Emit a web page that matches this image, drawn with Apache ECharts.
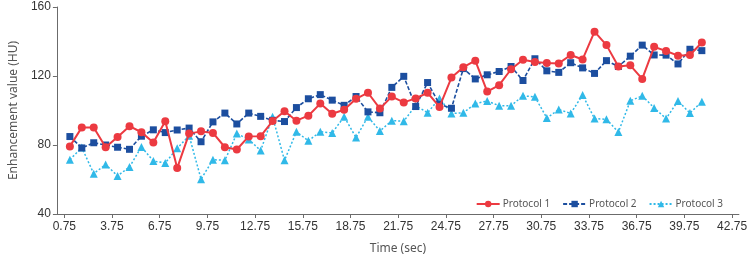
<!DOCTYPE html>
<html>
<head>
<meta charset="utf-8">
<script src="https://cdn.jsdelivr.net/npm/echarts@6/dist/echarts.min.js"></script>
<style>
html,body{margin:0;padding:0;background:#fff;}
#chart{width:750px;height:260px;}
</style>
</head>
<body>
<div id="chart"></div>
<script>
// Acquisition times (sec)
var times = [1.1,1.85,2.6,3.35,4.1,4.85,5.6,6.35,7.1,7.85,8.6,9.35,10.1,10.85,11.6,12.35,13.1,13.85,14.6,15.35,16.1,16.85,17.6,18.35,19.1,19.85,20.6,21.35,22.1,22.85,23.6,24.35,25.1,25.85,26.6,27.35,28.1,28.85,29.6,30.35,31.1,31.85,32.6,33.35,34.1,34.85,35.6,36.35,37.1,37.85,38.6,39.35,40.1,40.85];

var protocol1 = [79.2,90.2,90.2,78.7,84.7,90.9,87.4,81.5,93.8,66.6,86.6,87.9,87.0,78.7,77.4,85.0,
  85.1,93.9,99.6,94.1,97.0,104.0,98.1,100.4,106.8,110.3,101.1,108.1,104.7,107.0,110.3,102.1,119.1,125.1,128.9,111.0,
  114.7,123.9,129.4,128.1,127.5,127.3,132.2,129.6,145.7,137.9,125.5,126.2,118.3,136.9,134.5,131.8,132.2,139.4];

var protocol2 = [84.9,78.3,81.3,80.0,78.7,77.5,85.1,88.8,87.2,88.7,89.8,81.9,93.4,98.5,92.2,98.5,
  96.6,94.3,93.6,101.7,106.8,109.2,106.0,103.0,108.1,99.2,98.7,113.4,119.8,102.3,116.2,103.6,101.3,124.3,118.3,120.7,
  122.6,125.5,117.4,130.0,123.0,122.1,127.7,124.7,121.5,128.9,125.5,131.5,137.9,132.2,132.1,127.0,135.5,134.7];

var protocol3 = [71.5,78.5,63.4,68.7,62.1,67.3,78.9,70.7,69.6,78.1,85.4,60.2,71.5,71.1,86.6,83.2,
  76.8,96.4,71.1,87.7,82.4,87.7,87.0,96.4,84.3,96.4,88.1,94.1,93.8,102.8,98.7,107.0,98.3,98.7,104.0,105.5,
  102.8,102.8,108.5,107.9,95.6,100.6,98.3,109.0,95.3,94.9,87.5,105.6,108.5,101.5,95.3,105.5,98.5,105.1];

var xTicks = [0.75,3.75,6.75,9.75,12.75,15.75,18.75,21.75,24.75,27.75,30.75,33.75,36.75,39.75,42.75];
var yTicks = [40,80,120,160];
var seriesNames = ['Protocol 1','Protocol 2','Protocol 3'];

function pairs(vals){ return vals.map(function(v,i){ return [times[i], v]; }); }

var axisColor = '#6b6b6b';
var labelFont = 'Liberation Sans, Arial, sans-serif';

var chart = echarts.init(document.getElementById('chart'), null, {renderer:'canvas'});
chart.setOption({
  animation: false,
  backgroundColor: '#fff',
  grid: {left: 50, right: 8, top: 7, bottom: 41},
  legend: {
    data: seriesNames,
    right: 22, top: 194,
    itemWidth: 23, itemHeight: 8, itemGap: 12,
    textStyle: {fontFamily: 'Noto Sans, sans-serif', fontSize: 10, color: '#555', padding: [0,0,0,-2]}
  },
  xAxis: {
    type: 'value',
    min: 0.285, max: 43.18,
    name: 'Time (sec)', nameLocation: 'middle', nameGap: 29,
    nameTextStyle: {fontFamily: 'Noto Sans, sans-serif', fontSize: 12, color: '#555'},
    axisLine: {lineStyle: {color: axisColor, width: 1}},
    axisTick: {show: true, length: 4, inside: false, customValues: xTicks, lineStyle: {color: axisColor}},
    axisLabel: {customValues: xTicks, margin: 7, fontFamily: labelFont, fontSize: 12, color: '#333',
      formatter: function(v){ return v.toFixed(2); }},
    splitLine: {show: false}
  },
  yAxis: {
    type: 'value',
    min: 40, max: 160, interval: 40,
    name: 'Enhancement value (HU)', nameLocation: 'middle', nameGap: 34, nameRotate: 90,
    nameTextStyle: {fontFamily: 'Noto Sans, sans-serif', fontSize: 12, color: '#555'},
    axisLine: {show: true, lineStyle: {color: axisColor, width: 1}},
    axisTick: {show: true, length: 4, lineStyle: {color: axisColor}},
    axisLabel: {margin: 6, fontFamily: labelFont, fontSize: 12, color: '#333'},
    splitLine: {show: false}
  },
  series: [
    {name: seriesNames[0], type: 'line', data: pairs(protocol1), symbol: 'circle', symbolSize: 8,
      lineStyle: {color: '#ec3a41', width: 2, type: 'solid'}, itemStyle: {color: '#ec3a41'}, z: 3},
    {name: seriesNames[1], type: 'line', data: pairs(protocol2), symbol: 'rect', symbolSize: 7,
      lineStyle: {color: '#1c4e9f', width: 1.6, type: [4,2]}, itemStyle: {color: '#1c4e9f'}, z: 2},
    {name: seriesNames[2], type: 'line', data: pairs(protocol3), symbol: 'triangle', symbolSize: 8,
      lineStyle: {color: '#30b9e8', width: 1.5, type: [2,2]}, itemStyle: {color: '#30b9e8'}, z: 1}
  ]
});
</script>
</body>
</html>
